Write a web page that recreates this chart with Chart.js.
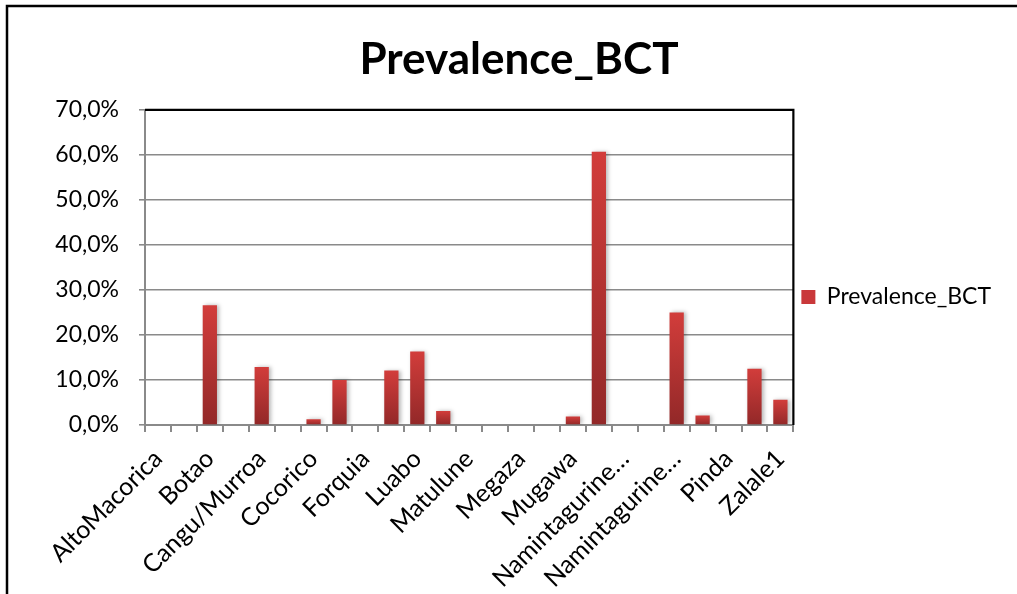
<!DOCTYPE html>
<html>
<head>
<meta charset="utf-8">
<script src="https://cdn.jsdelivr.net/npm/chart.js@4.4.1/dist/chart.umd.min.js"></script>
<style>
  html, body { margin: 0; padding: 0; background: #fff; }
  #wrap { width: 1017px; height: 594px; position: relative; }
</style>
</head>
<body>
<div id="wrap"><canvas id="c" width="1017" height="594"></canvas></div>
<script>
// Villages (every other name is not printed on the axis)
const categories = [
  'AltoMacorica', '', 'Botao', '', 'Cangu/Murroa', '', 'Cocorico', '',
  'Forquia', '', 'Luabo', '', 'Matulune', '', 'Megaza', '', 'Mugawa', '',
  'Namintagurine…', '', 'Namintagurine…', '', 'Pinda', '', 'Zalale1'
];
// Prevalence by BCT, in percent
const prevalenceBCT = [
  0, 0, 26.6, 0, 12.9, 0, 1.3, 10.0,
  0, 12.1, 16.3, 3.1, 0, 0, 0, 0, 1.9, 60.7,
  0, 0, 25.0, 2.1, 0, 12.5, 5.6
];
const yTicks = { min: 0, max: 70, step: 10 };
const seriesName = 'Prevalence_BCT';

const FONT = 'Lato, "Open Sans", sans-serif';

function barFill(ctx) {
  if (ctx.type !== 'data' || !ctx.chart.scales.y) return '#c0332f';
  const y = ctx.chart.scales.y;
  const top = y.getPixelForValue(ctx.parsed.y);
  const base = y.getPixelForValue(0);
  if (!isFinite(top) || Math.abs(base - top) < 1) return '#c9383a';
  const g = ctx.chart.ctx.createLinearGradient(0, top, 0, base);
  g.addColorStop(0, '#d23d3b');
  g.addColorStop(1, '#922828');
  return g;
}

// Outer frame, plot frame (top/right) and soft bar shadow
const framePlugin = {
  id: 'frames',
  beforeDraw(chart) {
    const c = chart.ctx;
    c.save();
    c.fillStyle = '#fff';
    c.fillRect(0, 0, chart.width, chart.height);
    c.strokeStyle = '#000';
    c.lineWidth = 2.5;
    c.strokeRect(7, 6, chart.width + 20, chart.height + 20);
    c.restore();
  },
  beforeDatasetsDraw(chart) {
    const c = chart.ctx;
    c.save();
    c.shadowColor = 'rgba(0,0,0,0.28)';
    c.shadowBlur = 4;
    c.shadowOffsetX = 2;
    c.shadowOffsetY = 0;
  },
  afterDatasetsDraw(chart) {
    chart.ctx.restore();
  },
  afterDraw(chart) {
    const a = chart.chartArea;
    const c = chart.ctx;
    c.save();
    c.strokeStyle = '#000';
    c.lineWidth = 2.2;
    c.beginPath();
    c.moveTo(a.left, a.top);
    c.lineTo(a.right, a.top);
    c.lineTo(a.right, a.bottom);
    c.stroke();
    c.restore();
  }
};

new Chart(document.getElementById('c'), {
  type: 'bar',
  data: {
    labels: categories,
    datasets: [{
      label: seriesName,
      data: prevalenceBCT,
      backgroundColor: barFill,
      borderWidth: 0,
      barPercentage: 0.55,
      categoryPercentage: 1.0
    }]
  },
  options: {
    responsive: false,
    animation: false,
    devicePixelRatio: 1,
    layout: { padding: { left: 37, right: 16, top: 0, bottom: 0 } },
    plugins: {
      title: {
        display: true,
        text: seriesName,
        color: '#000',
        font: { family: FONT, size: 44, weight: 'bold' },
        padding: { top: 33, bottom: 24 }
      },
      legend: {
        position: 'right',
        labels: {
          color: '#000',
          font: { family: FONT, size: 23 },
          boxWidth: 14,
          boxHeight: 14,
          padding: 8
        }
      },
      tooltip: { enabled: false }
    },
    scales: {
      x: {
        grid: {
          offset: true,
          drawOnChartArea: false,
          drawTicks: true,
          tickLength: 7,
          color: '#8a8a8a',
          lineWidth: 2
        },
        border: { color: '#8a8a8a', width: 2 },
        ticks: {
          autoSkip: false,
          maxRotation: 45,
          minRotation: 45,
          color: '#000',
          font: { family: FONT, size: 25 },
          padding: 12
        },
        afterFit(scale) { scale.height = 169; }
      },
      y: {
        min: yTicks.min,
        max: yTicks.max,
        grid: {
          color: '#8a8a8a',
          lineWidth: 1.6,
          tickLength: 6
        },
        border: { color: '#8a8a8a', width: 2 },
        ticks: {
          stepSize: yTicks.step,
          color: '#000',
          font: { family: FONT, size: 23 },
          padding: 20,
          callback: v => v.toFixed(1).replace('.', ',') + '%'
        },
        afterFit(scale) { scale.width = 108; }
      }
    }
  },
  plugins: [framePlugin]
});
</script>
</body>
</html>
